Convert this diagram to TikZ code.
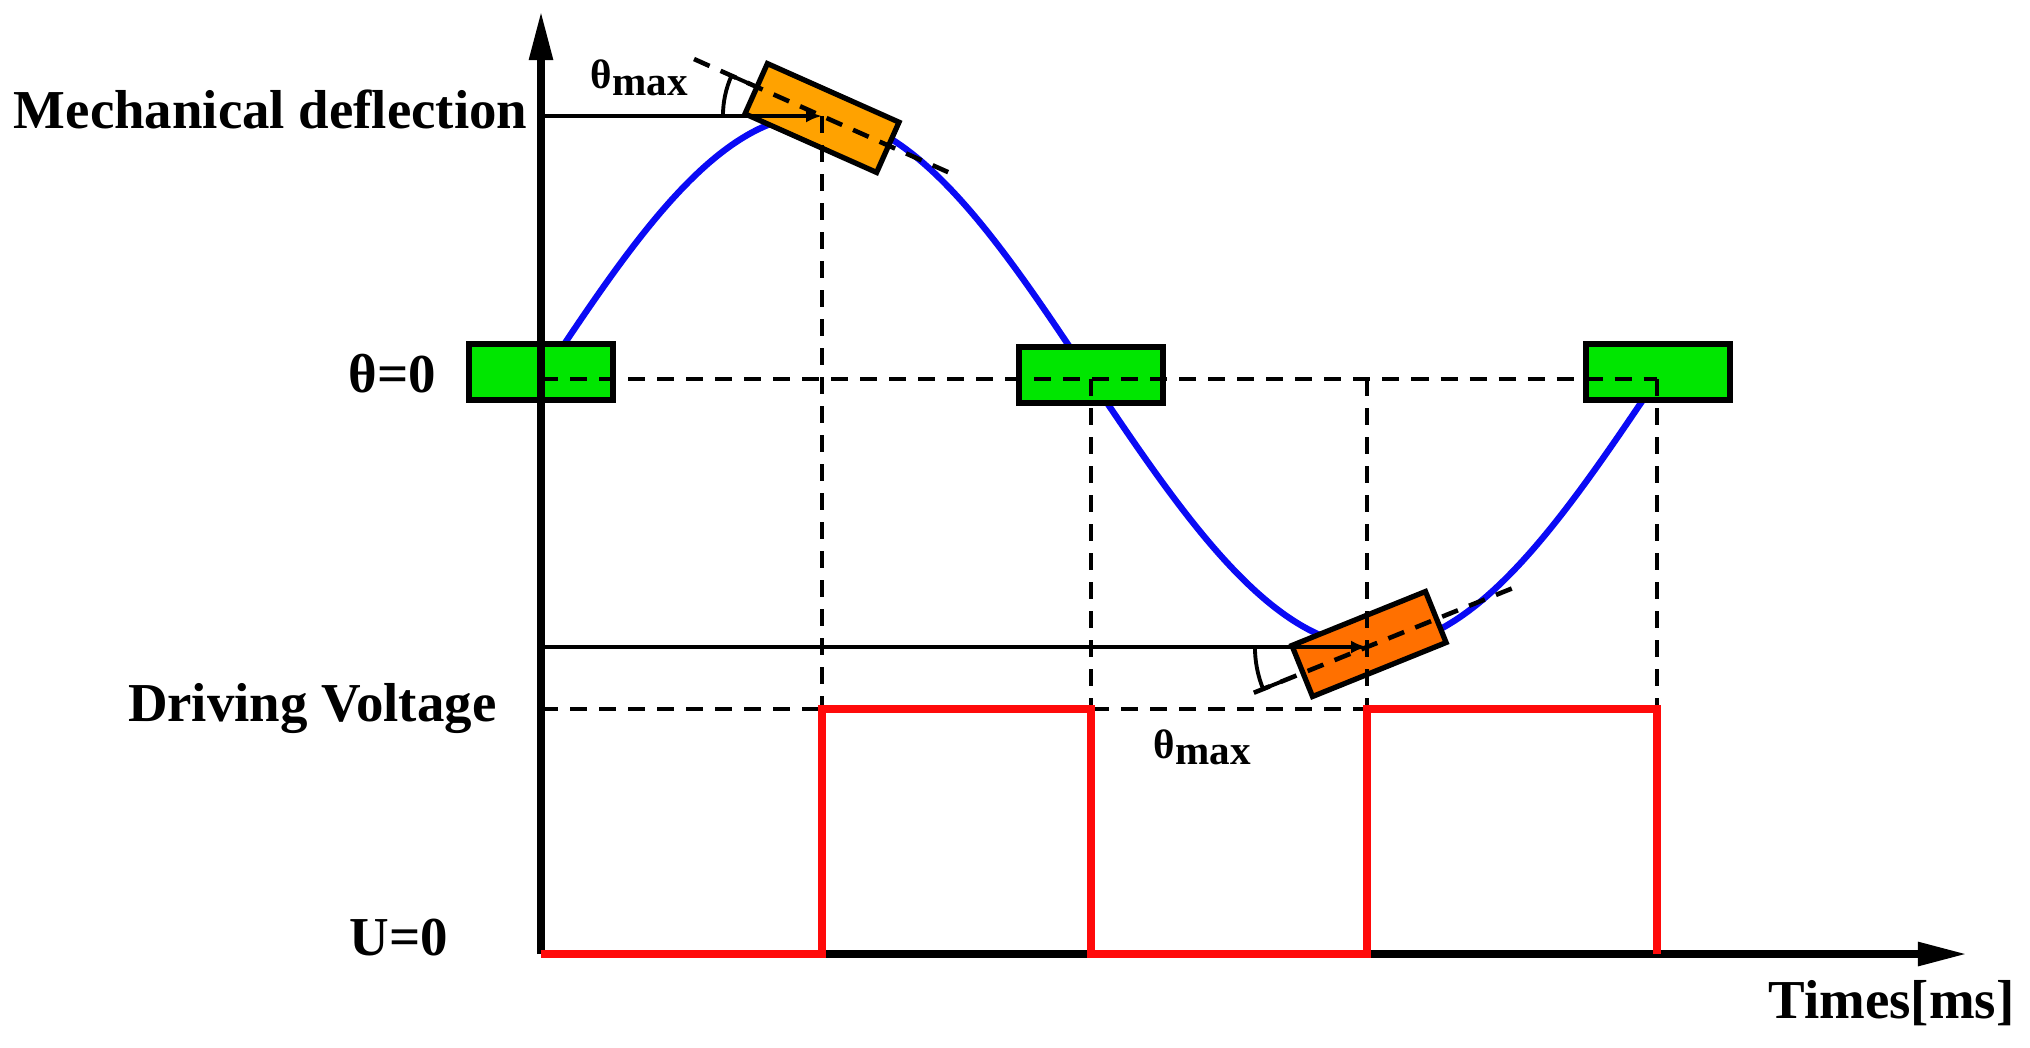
\documentclass[tikz,border=0pt]{standalone}
\usepackage{fontspec}
\setmainfont{Liberation Serif}
\usetikzlibrary{arrows.meta,calc}
\definecolor{gbox}{RGB}{0,230,0}
\definecolor{oboxA}{RGB}{255,162,0}
\definecolor{oboxB}{RGB}{255,112,0}
\definecolor{wave}{RGB}{10,10,245}
\definecolor{volt}{RGB}{255,10,10}
\begin{document}
\begin{tikzpicture}[x=0.01cm,y=-0.01cm,
  lbl/.style={font=\fontsize{15.6}{18}\selectfont\bfseries, inner sep=0pt},
  thlbl/.style={font=\fontsize{11.7}{14}\selectfont\bfseries, inner sep=0pt},
  gblock/.style={draw=black, line width=1.5pt, fill=gbox, minimum width=1.44cm, minimum height=0.56cm, inner sep=0pt},
  oblock/.style={draw=black, line width=1.5pt, minimum width=1.44cm, minimum height=0.55cm, inner sep=0pt},
  guide/.style={dash pattern=on 0.17cm off 0.12cm, line width=1.3pt},
  refline/.style={line width=1.1pt},
  axisline/.style={line width=2.4pt, -{Triangle[length=0.5cm,width=0.22cm]}},
  ]
\useasboundingbox (0,0) rectangle (2030,1047);

% named points
\coordinate (O) at (541,954);
\coordinate (ytip) at (541,10);
\coordinate (xtip) at (1968,954);
\coordinate (a1) at (541,116);
\coordinate (a2) at (541,379);
\coordinate (a3) at (541,647);
\coordinate (a4) at (541,709);
\coordinate (p1) at (822,116);
\coordinate (p2) at (1367,647);
\coordinate (z2) at (1091,379);
\coordinate (z3) at (1367,379);
\coordinate (z4) at (1657,379);
\coordinate (h1) at (822,709);
\coordinate (h2) at (1091,709);
\coordinate (h3) at (1367,709);
\coordinate (h4) at (1657,709);
\coordinate (l1) at (822,954);
\coordinate (l2) at (1091,954);
\coordinate (l3) at (1367,954);
\coordinate (l4) at (1657,954);

% mechanical deflection curve
\draw[wave, line width=1.8pt] plot[domain=541:1091, samples=60, smooth] (\x,{379-264*sin((\x-541)/550*180)})
  -- plot[domain=1091:1657, samples=60, smooth] (\x,{379+268*sin((\x-1091)/566*180)});

% mirror blocks
\node[gblock] (g1) at (541,372) {};
\node[gblock] (g2) at (1091,375) {};
\node[gblock] (g3) at (1658,372) {};
\node[oblock, fill=oboxA, rotate=-24] (o1) at (822,118) {};
\node[oblock, fill=oboxB, rotate=22] (o2) at (1369,644) {};

% dashed guides
\draw[guide] (a2) -- (z4);
\draw[guide] (a4) -- (h3);
\draw[guide] (p1) -- (h1);
\draw[guide] (z2) -- (h2);
\draw[guide] (z3) -- (h3);
\draw[guide] (z4) -- (h4);
\draw[guide] ($(p1)+(156:1.40cm)$) -- ($(p1)+(-24:1.42cm)$);
\draw[guide] ($(p2)+(202:1.22cm)$) -- ($(p2)+(22:1.56cm)$);

% reference lines and angle marks
\draw[refline, -{Latex[length=0.16cm,width=0.13cm]}] (a1) -- (p1);
\draw[refline, -{Latex[length=0.16cm,width=0.13cm]}] (a3) -- (p2);
\draw[refline] ($(p1)+(180:0.99cm)$) arc[start angle=180, end angle=156, radius=0.99cm];
\draw[refline] ($(p1)+(156:0.99cm)$) -- ($(p1)+(156:0.78cm)$);
\draw[refline] ($(p2)+(180:1.12cm)$) arc[start angle=180, end angle=202, radius=1.12cm];
\draw[refline] ($(p2)+(202:1.12cm)$) -- ($(p2)+(202:0.92cm)$);

% axes
\draw[axisline] (O) -- (ytip);
\draw[axisline] (O) -- (xtip);

% driving voltage
\draw[volt, line width=2.4pt] (O) -- (l1) -- (h1) -- (h2) -- (l2) -- (l3) -- (h3) -- (h4) -- (l4);

% labels
\node[lbl, anchor=base east] (mech) at (528,128) {Mechanical deflection};
\node[lbl, anchor=base east] (th0) at (437,392) {θ=0};
\node[lbl, anchor=base east] (dv) at (497,721) {Driving Voltage};
\node[lbl, anchor=base east] (u0) at (449,955) {U=0};
\node[lbl, anchor=base west] (tms) at (1768,1018) {Times[ms]};
\node[thlbl, anchor=base west] (thm1) at (590,88) {θ\raisebox{-0.07cm}{max}};
\node[thlbl, anchor=base west] (thm2) at (1153,758) {θ\raisebox{-0.06cm}{max}};
\end{tikzpicture}
\end{document}
